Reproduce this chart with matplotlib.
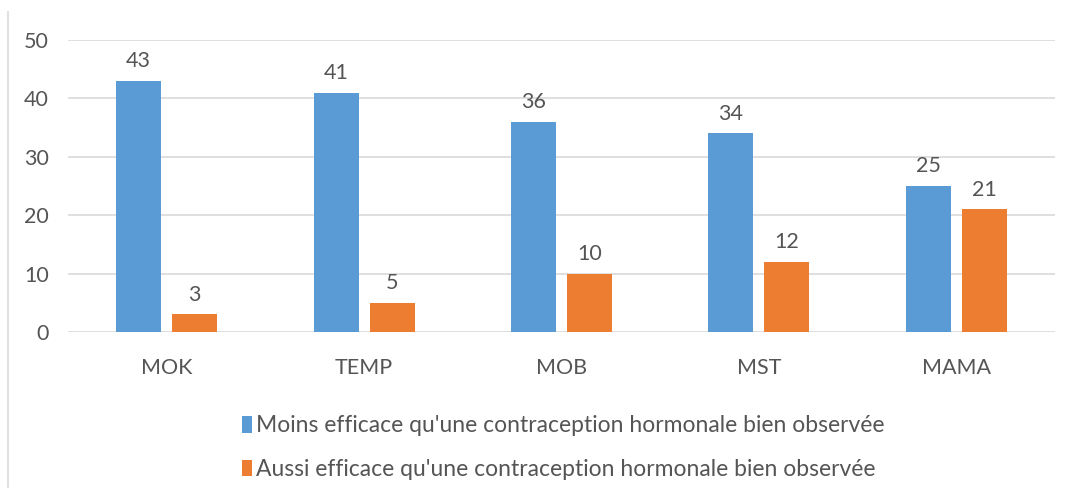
import numpy as np
import matplotlib
matplotlib.use('Agg')
import matplotlib.pyplot as plt
from matplotlib.lines import Line2D

plt.rcParams['font.family'] = ['Lato', 'DejaVu Sans']

categories = ['MOK', 'TEMP', 'MOB', 'MST', 'MAMA']
moins = [43, 41, 36, 34, 25]
aussi = [3, 5, 10, 12, 21]
labels = ["Moins efficace qu'une contraception hormonale bien observée",
          "Aussi efficace qu'une contraception hormonale bien observée"]

blue = '#5B9BD5'
orange = '#ED7D31'
txt = '#555555'

fig = plt.figure(figsize=(10.7, 4.88), dpi=100)
ax = fig.add_axes([68/1070, 1 - 332/488, (1055 - 68)/1070, (332 - 40)/488])

x = np.arange(len(categories))
w = 0.228
off = 0.142
b1 = ax.bar(x - off, moins, w, color=blue, label=labels[0], zorder=3)
b2 = ax.bar(x + off, aussi, w, color=orange, label=labels[1], zorder=3)

for bars in (b1, b2):
    for r in bars:
        ax.annotate(f'{int(r.get_height())}', (r.get_x() + r.get_width()/2, r.get_height()),
                    xytext=(0, 7), textcoords='offset points', ha='center', va='bottom',
                    fontsize=15.5, color=txt)

ax.set_xlim(-0.5, 4.5)
ax.set_ylim(0, 50)
ax.set_yticks(range(0, 51, 10))
ax.set_xticks(x)
ax.set_xticklabels(categories)
ax.grid(axis='y', color='#d9d9d9', linewidth=1.2, zorder=0)
for s in ax.spines.values():
    s.set_visible(False)
ax.tick_params(length=0, labelsize=15.5, labelcolor=txt)
ax.tick_params(axis='y', pad=14)
ax.tick_params(axis='x', pad=19)

fig.legend(loc='upper left', bbox_to_anchor=(233/1070, 1 - 406/488), frameon=False,
           fontsize=16.5, labelcolor=txt, handlelength=0.45, handleheight=0.75,
           handletextpad=0.15, labelspacing=1.0, borderaxespad=0)

fig.add_artist(Line2D([8/1070, 8/1070], [0, 1 - 12/488], transform=fig.transFigure,
                      color='#d9d9d9', linewidth=1.2))

fig.savefig('out.png', dpi=100)
